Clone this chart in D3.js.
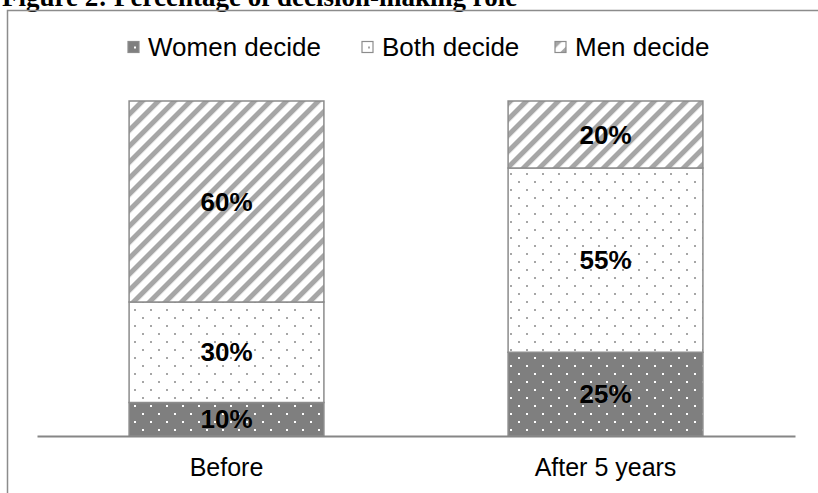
<!DOCTYPE html>
<html>
<head>
<meta charset="utf-8">
<script src="https://cdn.jsdelivr.net/npm/d3@7"></script>
<style>
  html, body { margin: 0; padding: 0; background: #ffffff; }
  svg { display: block; }
</style>
</head>
<body>
<svg id="chart" width="818" height="493"></svg>
<script>
// Decision-making role, share of households (%)
const categories = ["Before", "After 5 years"];
const seriesNames = ["Women decide", "Both decide", "Men decide"];
const womenDecide = [10, 25];
const bothDecide = [30, 55];
const menDecide = [60, 20];
const titleText = "Figure 2: Percentage of decision-making role";

const rows = categories.map((c, i) => ({
  category: c,
  "Women decide": womenDecide[i],
  "Both decide": bothDecide[i],
  "Men decide": menDecide[i]
}));

const svg = d3.select("#chart");
const W = 818, H = 493;

// fill patterns
const defs = svg.append("defs");

// dark dotted
const pDark = defs.append("pattern")
  .attr("id", "pat-women").attr("patternUnits", "userSpaceOnUse")
  .attr("width", 16).attr("height", 16);
pDark.append("rect").attr("width", 16).attr("height", 16).attr("fill", "#7f7f7f");
pDark.append("rect").attr("x", 6).attr("y", 5).attr("width", 2).attr("height", 2).attr("fill", "#ffffff");
pDark.append("rect").attr("x", 14).attr("y", 13).attr("width", 2).attr("height", 2).attr("fill", "#ffffff");

// light dotted
const pLight = defs.append("pattern")
  .attr("id", "pat-both").attr("patternUnits", "userSpaceOnUse")
  .attr("width", 16).attr("height", 16);
pLight.append("rect").attr("width", 16).attr("height", 16).attr("fill", "#ffffff");
pLight.append("rect").attr("x", 6).attr("y", 5).attr("width", 2).attr("height", 2).attr("fill", "#a6a6a6");
pLight.append("rect").attr("x", 14).attr("y", 13).attr("width", 2).attr("height", 2).attr("fill", "#a6a6a6");

// upward diagonal stripes
const stripePeriod = 16 / Math.SQRT2;
const pStripe = defs.append("pattern")
  .attr("id", "pat-men").attr("patternUnits", "userSpaceOnUse")
  .attr("width", stripePeriod).attr("height", 10)
  .attr("patternTransform", "rotate(45)");
pStripe.append("rect").attr("width", stripePeriod).attr("height", 10).attr("fill", "#ffffff");
pStripe.append("rect").attr("width", stripePeriod * 0.44).attr("height", 10).attr("fill", "#a6a6a6");

const fills = {
  "Women decide": "url(#pat-women)",
  "Both decide": "url(#pat-both)",
  "Men decide": "url(#pat-men)"
};

// title (runs off the top edge)
svg.append("text")
  .attr("x", 2).attr("y", 6)
  .attr("font-family", "'Liberation Serif', 'Times New Roman', serif")
  .attr("font-weight", "bold")
  .attr("font-size", 27)
  .attr("fill", "#000")
  .text(titleText);

// chart frame (top and left edges)
svg.append("path")
  .attr("d", `M7.5,${H}V10.5H${W}`)
  .attr("fill", "none")
  .attr("stroke", "#8c8c8c")
  .attr("stroke-width", 1.5);

// scales
const x = d3.scaleBand()
  .domain(categories)
  .range([37, 795])
  .paddingInner(0.486)
  .paddingOuter(0.243);

const y = d3.scaleLinear().domain([0, 100]).range([436, 101]);

const stack = d3.stack().keys(seriesNames);
const layers = stack(rows);

const gBars = svg.append("g");
gBars.selectAll("g.layer")
  .data(layers)
  .join("g")
  .attr("class", "layer")
  .attr("fill", d => fills[d.key])
  .selectAll("rect")
  .data(d => d)
  .join("rect")
  .attr("x", d => x(d.data.category))
  .attr("y", d => y(d[1]))
  .attr("width", x.bandwidth())
  .attr("height", d => y(d[0]) - y(d[1]))
  .attr("stroke", "#8c8c8c")
  .attr("stroke-width", 1.5);

// value labels
const gLabels = svg.append("g");
layers.forEach(layer => {
  layer.forEach(d => {
    const v = d[1] - d[0];
    gLabels.append("text")
      .attr("x", x(d.data.category) + x.bandwidth() / 2)
      .attr("y", (y(d[0]) + y(d[1])) / 2)
      .attr("text-anchor", "middle")
      .attr("dominant-baseline", "central")
      .attr("font-family", "'Liberation Sans', Arial, sans-serif")
      .attr("font-weight", "bold")
      .attr("font-size", 26)
      .attr("fill", "#000")
      .text(v + "%");
  });
});

// category axis
const xAxis = d3.axisBottom(x).tickSize(0).tickSizeOuter(0).tickPadding(22);
const gx = svg.append("g")
  .attr("transform", `translate(0,${y(0)})`)
  .call(xAxis);
gx.select(".domain").attr("stroke", "#868686").attr("stroke-width", 2);
gx.selectAll(".tick text")
  .attr("font-family", "'Liberation Sans', Arial, sans-serif")
  .attr("font-size", 25)
  .attr("fill", "#000");

// legend
const legendX = [128, 362, 555];
const gLeg = svg.append("g");
seriesNames.forEach((name, i) => {
  const g = gLeg.append("g").attr("transform", `translate(${legendX[i]},41.5)`);
  g.append("rect")
    .attr("width", 11).attr("height", 11)
    .attr("fill", fills[name])
    .attr("stroke", "#8c8c8c").attr("stroke-width", 1.2);
  g.append("text")
    .attr("x", 20).attr("y", 5.5)
    .attr("dominant-baseline", "central")
    .attr("font-family", "'Liberation Sans', Arial, sans-serif")
    .attr("font-size", 26)
    .attr("fill", "#000")
    .text(name);
});
</script>
</body>
</html>
